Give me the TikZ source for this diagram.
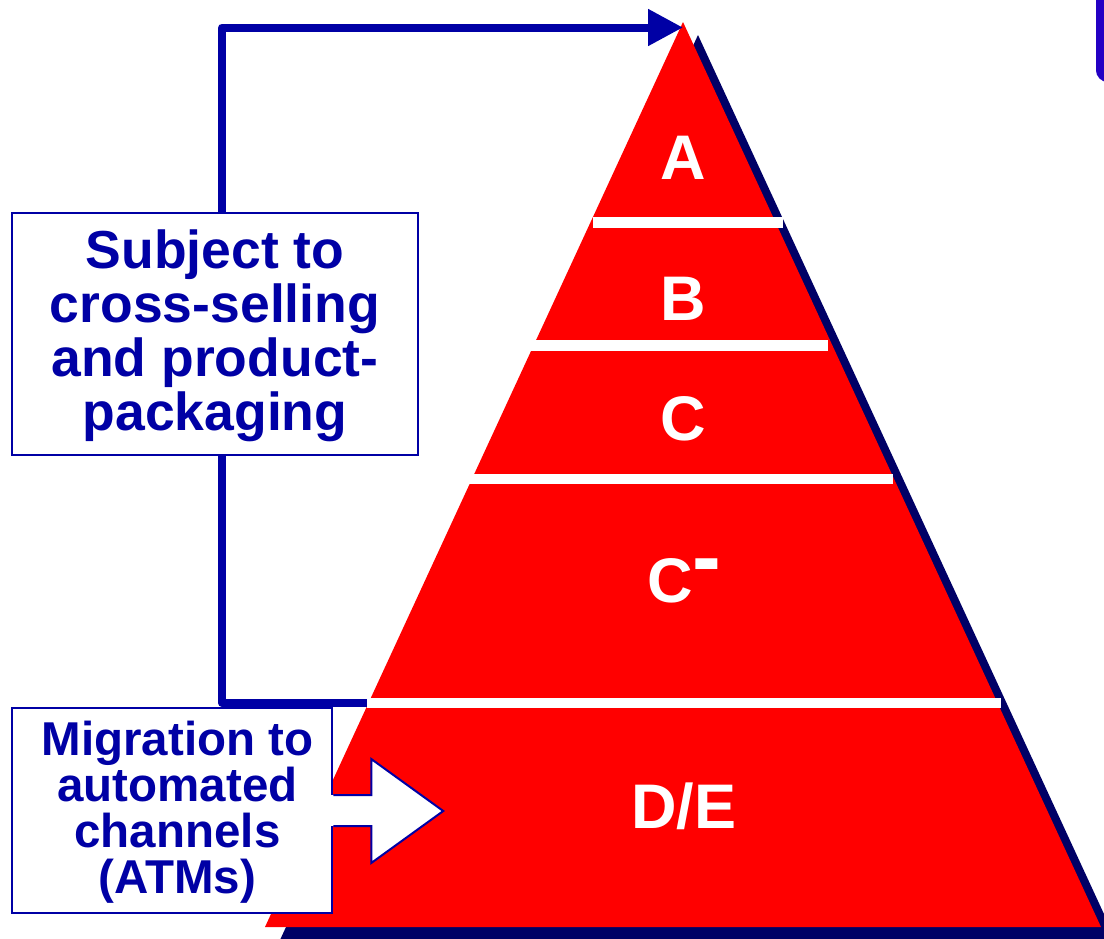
\documentclass[tikz,border=0pt]{standalone}
\usepackage{fontspec}
\usepackage{graphicx}
\setmainfont{Liberation Sans}
\usetikzlibrary{arrows.meta}
\definecolor{pred}{RGB}{255,0,0}
\definecolor{shadowblue}{RGB}{0,0,102}
\definecolor{dblue}{RGB}{0,0,165}
\definecolor{pblue}{RGB}{36,0,196}
\begin{document}
\begin{tikzpicture}[x=1pt,y=-1pt,
  lbl/.style={text=white,font=\fontsize{63}{63}\selectfont\bfseries,inner sep=0pt},
  infobox/.style={draw=dblue,line width=2.5pt,fill=white,inner sep=0pt},
  boxtext/.style={text=dblue,align=center,inner sep=0pt},
  conn/.style={draw=dblue,line width=8pt,line join=round},
  sepbar/.style={draw=white,line width=11pt},
  blockarrow/.style={draw=dblue,line width=2pt,fill=white,line join=miter}
]
\path[use as bounding box] (0,0) rectangle (1104,938);
\begin{scope}
\clip (0,0) rectangle (1104,938);
% shadow and pyramid
\fill[shadowblue] (698,35) -- (1116,940) -- (280,940) -- cycle;
\fill[pred] (683,22) -- (1101,927) -- (265,927) -- cycle;
% separators
\draw[sepbar] (593,222.5) -- (783,222.5);
\draw[sepbar] (530,345.5) -- (828,345.5);
\draw[sepbar,line width=10pt] (468,479) -- (893,479);
\draw[sepbar,line width=10pt] (367,703) -- (1001,703);
% partial box at top right
\draw[pblue,line width=8pt,rounded corners=8pt] (1100,-30) -- (1100,78) -- (1200,78);
\end{scope}
% labels
\node[lbl,anchor=base] (la) at (683,179) {A};
\node[lbl,anchor=base] (lb) at (683,320) {B};
\node[lbl,anchor=base] (lc) at (683,440) {C};
\node[lbl,anchor=base west] (lcm) at (647,602) {C\raisebox{15pt}{\scalebox{1.37}[1.43]{-}}};
\node[lbl,anchor=base] (lde) at (684,828) {D/E};
% boxes
\node[infobox,minimum width=406pt,minimum height=242pt] (sub) at (215,334) {};
\node[boxtext,font=\fontsize{53.5}{54}\selectfont\bfseries,anchor=base] (subtxt)
      at (215,430) {Subject to\\cross-selling\\and product-\\packaging};
\node[infobox,minimum width=320pt,minimum height=205pt] (mig) at (172,810.5) {};
\node[boxtext,font=\fontsize{47.5}{46}\selectfont\bfseries,anchor=base] (migtxt)
      at (177.5,893) {Migration to\\automated\\channels\\(ATMs)};
% connectors
\coordinate (vx) at (222,0);
\coordinate (apex) at (683,27.5);
\coordinate (bend) at (367,703);
\draw[conn,-{Triangle[length=35pt,width=35pt]}] (sub.north -| vx) |- (apex);
\draw[conn] (sub.south -| vx) |- (bend);
% white block arrow
\fill[white] (mig.east) ++(-3,-15.5) rectangle ++(6,31);
\draw[blockarrow] (mig.east) ++(0,-15.5) -- ++(38,0) -- ++(0,-36) -- ++(72,52)
   -- ++(-72,52) -- ++(0,-37) -- ++(-38,0);
\end{tikzpicture}
\end{document}
